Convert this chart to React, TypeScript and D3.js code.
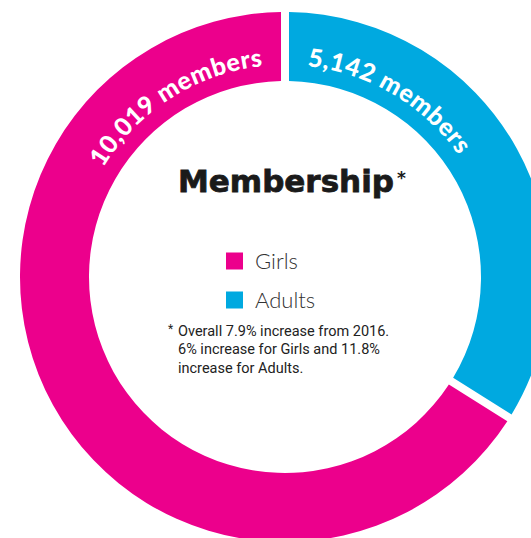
import React from "react";
import * as d3 from "d3";

const categories = ["Girls", "Adults"];
const members = [10019, 5142];
const sliceLabels = ["10,019 members", "5,142 members"];
const sliceColors = ["#EC008C", "#00A9E0"];
const titleText = "Membership";
const footnoteLines = [
  "Overall 7.9% increase from 2016.",
  "6% increase for Girls and 11.8%",
  "increase for Adults.",
];

const W = 531;
const H = 538;
const cx = 285;
const cy = 277;
const outerR = 265;
const innerR = 196;
const labelR = 212;

function arcPathAt(r: number, a0: number, a1: number) {
  const p = d3.path();
  const x0 = cx + r * Math.sin(a0);
  const y0 = cy - r * Math.cos(a0);
  p.moveTo(x0, y0);
  p.arc(cx, cy, r, a0 - Math.PI / 2, a1 - Math.PI / 2, false);
  return p.toString();
}

export default function App() {
  const total = d3.sum(members);
  const start = (-2 * Math.PI * members[0]) / total;
  const pie = d3
    .pie<number>()
    .sort(null)
    .value((d) => d)
    .startAngle(start)
    .endAngle(start + 2 * Math.PI);
  const slices = pie(members);
  const arc = d3
    .arc<d3.PieArcDatum<number>>()
    .innerRadius(innerR)
    .outerRadius(outerR)
    .padAngle(0.08)
    .padRadius(100);

  const labelOffset = 6 * (Math.PI / 180);

  return (
    <svg
      width={W}
      height={H}
      viewBox={`0 0 ${W} ${H}`}
      style={{ position: "absolute", left: 0, top: 0, background: "#fff" }}
    >
      <defs>
        {slices.map((s, i) => (
          <path
            key={i}
            id={`lp${i}`}
            d={arcPathAt(labelR, s.startAngle, s.endAngle)}
            fill="none"
          />
        ))}
      </defs>
      <g transform={`translate(${cx},${cy})`}>
        {slices.map((s, i) => (
          <path key={i} d={arc(s) || ""} fill={sliceColors[i]} />
        ))}
      </g>
      {slices.map((s, i) => {
        const len = (s.endAngle - s.startAngle) * labelR;
        const off = labelOffset * labelR;
        const isFirst = i === 0;
        return (
          <text
            key={i}
            fill="#fff"
            fontFamily="Lato, sans-serif"
            fontWeight={900}
            fontSize={25}
            letterSpacing={0.6}
          >
            <textPath
              href={`#lp${i}`}
              startOffset={isFirst ? len - off : off}
              textAnchor={isFirst ? "end" : "start"}
            >
              {sliceLabels[i]}
            </textPath>
          </text>
        );
      })}
      <text
        x={286}
        y={192}
        textAnchor="middle"
        fontFamily="'DejaVu Sans', sans-serif"
        fontWeight={700}
        fontSize={31}
        fill="#1a1a1a"
        stroke="#1a1a1a"
        strokeWidth={0.8}
        textLength={216}
        lengthAdjust="spacingAndGlyphs"
      >
        {titleText}
      </text>
      <text
        x={397}
        y={184}
        fontFamily="'DejaVu Sans', sans-serif"
        fontWeight={700}
        fontSize={17}
        fill="#1a1a1a"
      >
        *
      </text>
      {categories.map((c, i) => (
        <g key={c}>
          <rect
            x={226}
            y={252.5 + i * 39}
            width={17}
            height={17}
            fill={sliceColors[i]}
          />
          <text
            x={255}
            y={269 + i * 39}
            fontFamily="Lato, sans-serif"
            fontWeight={300}
            fontSize={22}
            fill="#333"
          >
            {c}
          </text>
        </g>
      ))}
      <text
        x={168}
        y={333}
        fontFamily="Roboto, sans-serif"
        fontSize={12}
        fill="#222"
      >
        *
      </text>
      {footnoteLines.map((l, i) => (
        <text
          key={i}
          x={178}
          y={336 + i * 18.3}
          fontFamily="Roboto, sans-serif"
          fontSize={14.5}
          fill="#222"
        >
          {l}
        </text>
      ))}
    </svg>
  );
}
